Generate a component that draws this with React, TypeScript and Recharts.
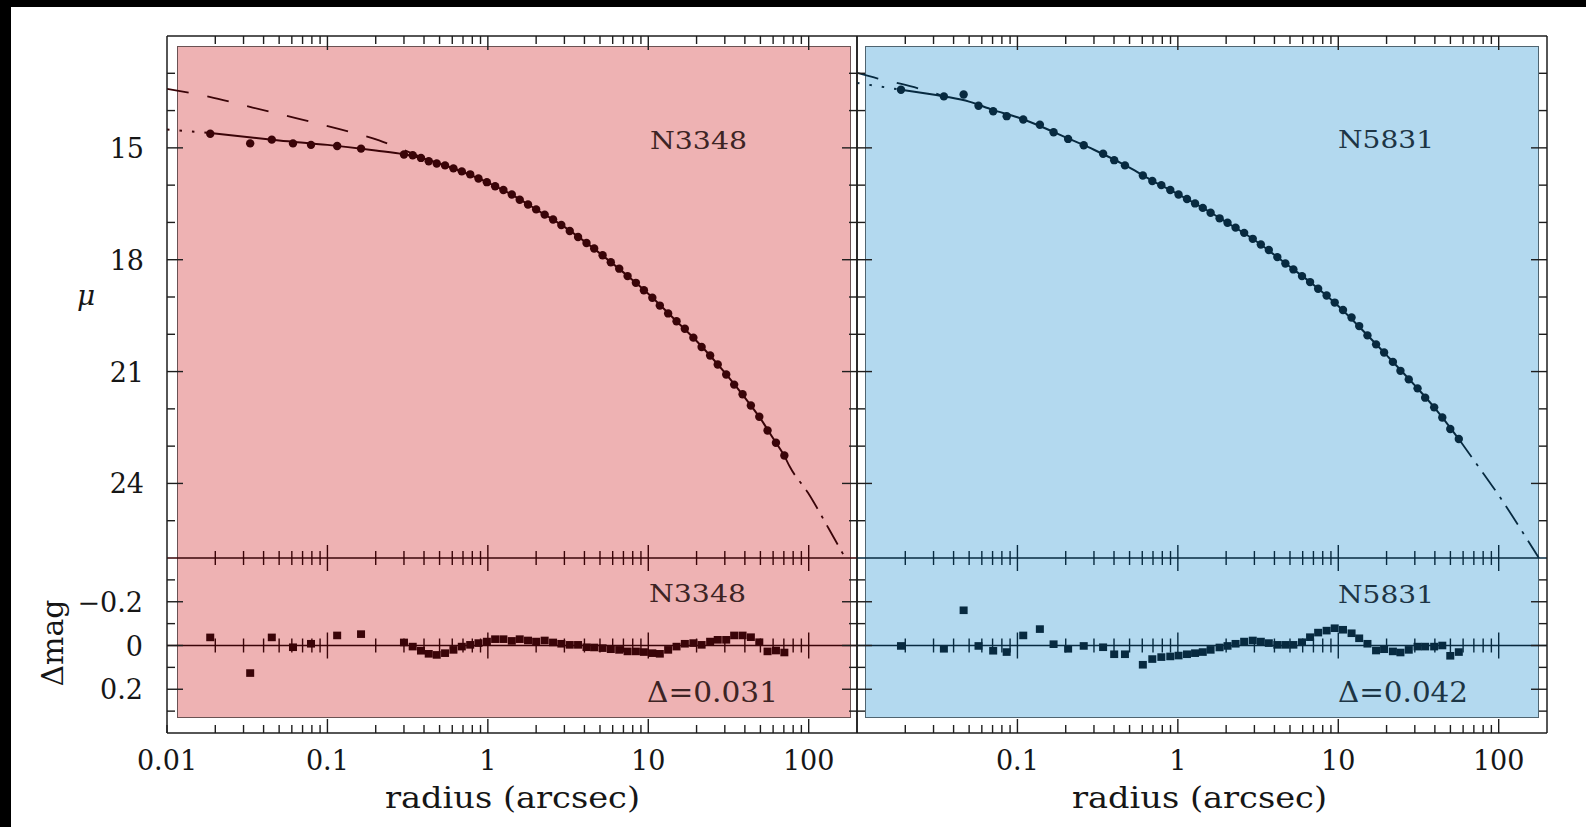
import React from "react";
import { ComposedChart, Line, Scatter, XAxis, YAxis, ReferenceLine } from "recharts";

const PAGE_W = 1586;
const PAGE_H = 827;
const SERIF = "'DejaVu Serif', 'Liberation Serif', serif";
const TEXT = "#161616";
const FRAME = "#1e1e1e";

// radius axis (log, arcsec)
const radiusDomain = [0.01, 200];
const radiusDecades = [0.01, 0.1, 1, 10, 100];
const radiusMinorSteps = [2, 3, 4, 5, 6, 7, 8, 9];
const radiusMajor = [0.1, 1, 10, 100];
const radiusLabelsLeft = ["0.01", "0.1", "1", "10", "100"];
const radiusLabelsRight = ["0.1", "1", "10", "100"];

// surface brightness axis
const muDomain = [12, 26];
const muMajor = [15, 18, 21, 24];
const muMinor = [13, 14, 16, 17, 19, 20, 22, 23, 25];

// residual axis
const dmagDomain = [-0.4, 0.4];
const dmagMajor = [-0.2, 0, 0.2];
const dmagMinor = [-0.3, -0.1, 0.1, 0.3];
const dmagLabels = ["\u22120.2", "0", "0.2"];

// NGC 3348: [radius, mu]
const n3348Profile: [number, number][] = [
  [0.0186, 14.62], [0.033, 14.88], [0.045, 14.78], [0.061, 14.88], [0.079, 14.92], [0.115, 14.95],
  [0.162, 15.02], [0.3, 15.18], [0.34, 15.2], [0.383, 15.27], [0.428, 15.36], [0.48, 15.42],
  [0.541, 15.47], [0.61, 15.55], [0.688, 15.63], [0.776, 15.71], [0.874, 15.82], [0.986, 15.92],
  [1.11, 16.03], [1.25, 16.13], [1.41, 16.25], [1.58, 16.39], [1.78, 16.52], [2.0, 16.65],
  [2.26, 16.79], [2.55, 16.92], [2.87, 17.07], [3.24, 17.23], [3.65, 17.39], [4.12, 17.55],
  [4.6, 17.7], [5.19, 17.88], [5.84, 18.07], [6.59, 18.24], [7.43, 18.44], [8.37, 18.62],
  [9.39, 18.82], [10.6, 19.02], [11.8, 19.23], [13.3, 19.44], [15.0, 19.65], [16.9, 19.85],
  [19.1, 20.09], [21.5, 20.34], [24.3, 20.57], [27.1, 20.81], [30.6, 21.08], [34.3, 21.35],
  [38.7, 21.61], [43.6, 21.91], [49.2, 22.21], [55.4, 22.58], [62.5, 22.91], [70.5, 23.25],
];
const n3348Residual: [number, number][] = [
  [0.0186, -0.037], [0.033, 0.126], [0.045, -0.037], [0.061, 0.008], [0.079, -0.008], [0.115, -0.046],
  [0.162, -0.052], [0.3, -0.014], [0.34, 0.005], [0.383, 0.024], [0.428, 0.038], [0.48, 0.043],
  [0.541, 0.035], [0.61, 0.02], [0.688, 0.005], [0.776, -0.003], [0.874, -0.011], [0.986, -0.018],
  [1.11, -0.029], [1.25, -0.029], [1.41, -0.021], [1.58, -0.029], [1.78, -0.023], [2.0, -0.018],
  [2.26, -0.023], [2.55, -0.014], [2.87, -0.008], [3.24, -0.003], [3.65, -0.003], [4.12, 0.008],
  [4.6, 0.009], [5.19, 0.012], [5.84, 0.017], [6.59, 0.02], [7.43, 0.027], [8.37, 0.027],
  [9.39, 0.03], [10.6, 0.035], [11.8, 0.038], [13.3, 0.02], [15.0, 0.005], [16.9, -0.008],
  [19.1, -0.011], [21.5, -0.003], [24.3, -0.018], [27.1, -0.026], [30.6, -0.026], [34.3, -0.046],
  [38.7, -0.046], [43.6, -0.038], [49.2, -0.015], [55.4, 0.027], [62.5, 0.023], [70.5, 0.032],
];
const n3348Fit: [number, number][] = [
  [0.0186, 14.6], [0.05, 14.8], [0.1, 14.92], [0.2, 15.07], [0.3, 15.17], [0.4, 15.29], [0.6, 15.54],
  [1, 15.93], [1.5, 16.32], [2, 16.65], [3, 17.12], [5, 17.83], [7, 18.34], [10, 18.91], [15, 19.65],
  [20, 20.18], [30, 21.03], [40, 21.7], [50, 22.26], [60, 22.79], [70.5, 23.25],
];
const n3348Sersic: [number, number][] = [
  [0.01, 13.42], [0.0184, 13.63], [0.0342, 13.92], [0.0636, 14.2], [0.119, 14.5], [0.21, 14.8],
  [0.3, 15.06], [0.4, 15.28],
];
const n3348Core: [number, number][] = [[0.01, 14.51], [0.0186, 14.6]];
const n3348Outer: [number, number][] = [[70.5, 23.25], [76, 23.54], [99, 24.25], [134, 25.23], [169, 26.0]];

// NGC 5831: [radius, mu]
const n5831Profile: [number, number][] = [
  [0.0188, 13.44], [0.0348, 13.62], [0.0462, 13.57], [0.0572, 13.87], [0.0706, 14.02], [0.0857, 14.15],
  [0.1087, 14.24], [0.138, 14.38], [0.168, 14.58], [0.207, 14.76], [0.259, 14.93], [0.342, 15.16],
  [0.401, 15.33], [0.468, 15.47], [0.605, 15.74], [0.693, 15.89], [0.789, 16.0], [0.897, 16.13],
  [1.01, 16.25], [1.14, 16.37], [1.28, 16.49], [1.43, 16.61], [1.6, 16.74], [1.82, 16.89],
  [2.04, 17.01], [2.29, 17.14], [2.59, 17.28], [2.93, 17.44], [3.29, 17.59], [3.69, 17.74],
  [4.17, 17.93], [4.68, 18.1], [5.25, 18.26], [5.94, 18.44], [6.67, 18.6], [7.49, 18.78],
  [8.46, 18.96], [9.5, 19.15], [10.7, 19.35], [12.1, 19.55], [13.5, 19.78], [15.2, 20.03],
  [17.2, 20.27], [19.3, 20.49], [21.9, 20.74], [24.4, 20.98], [27.5, 21.21], [31.2, 21.45],
  [34.8, 21.7], [39.6, 21.96], [44.5, 22.23], [49.9, 22.54], [56.4, 22.81],
];
const n5831Residual: [number, number][] = [
  [0.0188, 0.002], [0.0348, 0.015], [0.0462, -0.161], [0.0572, 0.002], [0.0706, 0.024], [0.0857, 0.03],
  [0.1087, -0.046], [0.138, -0.075], [0.168, -0.006], [0.207, 0.015], [0.259, 0.002], [0.342, 0.008],
  [0.401, 0.04], [0.468, 0.04], [0.605, 0.088], [0.693, 0.062], [0.789, 0.053], [0.897, 0.05],
  [1.01, 0.046], [1.14, 0.04], [1.28, 0.035], [1.43, 0.03], [1.6, 0.02], [1.82, 0.009],
  [2.04, 0.002], [2.29, -0.008], [2.59, -0.018], [2.93, -0.023], [3.29, -0.018], [3.69, -0.011],
  [4.17, -0.003], [4.68, -0.003], [5.25, -0.003], [5.94, -0.015], [6.67, -0.038], [7.49, -0.059],
  [8.46, -0.068], [9.5, -0.079], [10.7, -0.072], [12.1, -0.056], [13.5, -0.033], [15.2, -0.008],
  [17.2, 0.023], [19.3, 0.017], [21.9, 0.027], [24.4, 0.032], [27.5, 0.02], [31.2, 0.005],
  [34.8, 0.005], [39.6, 0.005], [44.5, 0], [49.9, 0.047], [56.4, 0.03],
];
const n5831Fit: [number, number][] = [
  [0.0188, 13.44], [0.035, 13.62], [0.05, 13.76], [0.07, 13.98], [0.1, 14.18], [0.15, 14.48],
  [0.2, 14.72], [0.3, 15.05], [0.5, 15.53], [0.7, 15.89], [1, 16.24], [1.5, 16.66], [2, 16.99],
  [3, 17.47], [5, 18.19], [7, 18.67], [10, 19.24], [15, 20.0], [20, 20.56], [30, 21.37], [40, 21.98],
  [56.4, 22.81],
];
const n5831Sersic: [number, number][] = [[0.01, 12.99], [0.0135, 13.14], [0.0186, 13.28], [0.0248, 13.42], [0.033, 13.58]];
const n5831Core: [number, number][] = [[0.01, 13.26], [0.0188, 13.44]];
const n5831Outer: [number, number][] = [[56.4, 22.81], [72.6, 23.47], [103, 24.4], [144, 25.37], [178, 26.0]];

const radiusMinor = radiusDecades.flatMap((d) => radiusMinorSteps.map((k) => d * k)).filter((v) => v < 200);
const radiusTicks = [...radiusMajor, ...radiusMinor];
const muTicks = [...muMajor, ...muMinor];
const dmagTicks = [...dmagMajor, ...dmagMinor];

const rows = (pairs: [number, number][], key: string) => pairs.map(([r, v]) => ({ r, [key]: v }));
const near = (a: number, b: number) => Math.abs(a - b) <= 1e-9 + 1e-6 * Math.abs(b);

type TickOpts = {
  vertical: boolean;
  major: number[];
  majorSpan: [number, number];
  minorSpan: [number, number];
  color: string;
  labels?: { value: number; text: string }[];
  dx?: number;
  dy?: number;
  anchor?: "start" | "middle" | "end";
};

function axisTick(o: TickOpts) {
  return (props: any) => {
    const { x, y, payload } = props;
    const v = Number(payload.value);
    const [a, b] = o.major.some((m) => near(m, v)) ? o.majorSpan : o.minorSpan;
    const lab = o.labels?.find((l) => near(l.value, v));
    return (
      <g>
        {o.vertical ? (
          <line x1={x} x2={x} y1={y + a} y2={y + b} stroke={o.color} strokeWidth={1.4} />
        ) : (
          <line x1={x + a} x2={x + b} y1={y} y2={y} stroke={o.color} strokeWidth={1.4} />
        )}
        {lab && (
          <text
            x={x + (o.dx ?? 0)}
            y={y + (o.dy ?? 0)}
            textAnchor={o.anchor ?? "middle"}
            fontFamily={SERIF}
            fontSize={27}
            fill={TEXT}
          >
            {lab.text}
          </text>
        )}
      </g>
    );
  };
}

// axes are 1px thick boxes; margins are reduced by 1 so plot areas land on the frame lines
const axisBase = { tickSize: 0, tickMargin: 0, tickLine: false, interval: 0 as const, allowDataOverflow: true };

type ProfileProps = {
  x0: number;
  x1: number;
  ink: string;
  first: boolean;
  profile: [number, number][];
  fit: [number, number][];
  sersic: [number, number][];
  core: [number, number][];
  outer: [number, number][];
};

function ProfileChart(p: ProfileProps) {
  const margin = { left: p.x0 - 1, right: PAGE_W - p.x1 - 1, top: 36 - 1, bottom: PAGE_H - 558 - 1 };
  const pts = rows(p.profile, "mu");
  return (
    <div style={{ position: "absolute", left: 0, top: 0 }}>
      <ComposedChart width={PAGE_W} height={PAGE_H} margin={margin}>
        <XAxis
          {...axisBase}
          xAxisId="b"
          dataKey="r"
          type="number"
          scale="log"
          domain={radiusDomain}
          ticks={radiusTicks}
          height={1}
          axisLine={{ stroke: p.ink, strokeWidth: 1.5 }}
          tick={axisTick({ vertical: true, major: radiusMajor, majorSpan: [-13, 13], minorSpan: [-7, 7], color: p.ink })}
        />
        <XAxis
          {...axisBase}
          xAxisId="t"
          dataKey="r"
          orientation="top"
          type="number"
          scale="log"
          domain={radiusDomain}
          ticks={radiusTicks}
          height={1}
          axisLine={{ stroke: FRAME, strokeWidth: 1.5 }}
          tick={axisTick({ vertical: true, major: radiusMajor, majorSpan: [0, 14], minorSpan: [0, 8], color: FRAME })}
        />
        <YAxis
          {...axisBase}
          yAxisId="l"
          type="number"
          domain={muDomain}
          reversed
          ticks={muTicks}
          width={1}
          axisLine={{ stroke: FRAME, strokeWidth: 1.5 }}
          tick={axisTick({
            vertical: false,
            major: muMajor,
            majorSpan: [0, p.first ? 16 : 15],
            minorSpan: [0, 8],
            color: FRAME,
            labels: p.first ? muMajor.map((v) => ({ value: v, text: String(v) })) : undefined,
            dx: -23,
            dy: 10,
            anchor: "end",
          })}
        />
        <YAxis
          {...axisBase}
          yAxisId="r"
          orientation="right"
          type="number"
          domain={muDomain}
          reversed
          ticks={muTicks}
          width={1}
          axisLine={{ stroke: FRAME, strokeWidth: 1.5 }}
          tick={axisTick({ vertical: false, major: muMajor, majorSpan: [p.first ? -15 : -16, 0], minorSpan: [-8, 0], color: FRAME })}
        />
        <Line xAxisId="b" yAxisId="l" data={rows(p.sersic, "mu")} dataKey="mu" type="monotone" stroke={p.ink}
          strokeWidth={1.8} strokeDasharray="22 19" dot={false} activeDot={false} isAnimationActive={false} />
        <Line xAxisId="b" yAxisId="l" data={rows(p.core, "mu")} dataKey="mu" type="linear" stroke={p.ink}
          strokeWidth={2} strokeDasharray="2.5 10" dot={false} activeDot={false} isAnimationActive={false} />
        <Line xAxisId="b" yAxisId="l" data={rows(p.outer, "mu")} dataKey="mu" type="monotone" stroke={p.ink}
          strokeWidth={1.8} strokeDasharray="22 8 3 8" dot={false} activeDot={false} isAnimationActive={false} />
        <Line xAxisId="b" yAxisId="l" data={rows(p.fit, "mu")} dataKey="mu" type="monotone" stroke={p.ink}
          strokeWidth={2} dot={false} activeDot={false} isAnimationActive={false} />
        <Scatter xAxisId="b" yAxisId="l" data={pts} dataKey="mu" isAnimationActive={false}
          shape={(s: any) => <circle cx={s.cx} cy={s.cy} r={4.2} fill={p.ink} />} />
        {/* invisible series tied to the top axis so it gets a scale and draws its ticks */}
        <Scatter xAxisId="t" yAxisId="r" data={pts} dataKey="mu" isAnimationActive={false}
          shape={() => <g />} />
      </ComposedChart>
    </div>
  );
}

type ResidualProps = {
  x0: number;
  x1: number;
  ink: string;
  first: boolean;
  residual: [number, number][];
};

function ResidualChart(p: ResidualProps) {
  const margin = { left: p.x0 - 1, right: PAGE_W - p.x1 - 1, top: 558, bottom: PAGE_H - 733 - 1 };
  const labels = (p.first ? radiusLabelsLeft : radiusLabelsRight).map((t) => ({ value: Number(t), text: t }));
  const zeroTicks = radiusTicks.map((r) => ({ r, d: 0 }));
  return (
    <div style={{ position: "absolute", left: 0, top: 0 }}>
      <ComposedChart width={PAGE_W} height={PAGE_H} margin={margin}>
        <XAxis
          {...axisBase}
          xAxisId="b"
          dataKey="r"
          type="number"
          scale="log"
          domain={radiusDomain}
          ticks={p.first ? [0.01, ...radiusTicks] : radiusTicks}
          height={1}
          axisLine={{ stroke: FRAME, strokeWidth: 1.5 }}
          tick={axisTick({ vertical: true, major: radiusMajor, majorSpan: [-14, 0], minorSpan: [-8, 0], color: FRAME, labels, dy: 37 })}
        />
        <YAxis
          {...axisBase}
          yAxisId="l"
          type="number"
          domain={dmagDomain}
          reversed
          ticks={dmagTicks}
          width={1}
          axisLine={{ stroke: FRAME, strokeWidth: 1.5 }}
          tick={axisTick({
            vertical: false,
            major: dmagMajor,
            majorSpan: [0, p.first ? 16 : 15],
            minorSpan: [0, 8],
            color: FRAME,
            labels: p.first ? dmagMajor.map((v, i) => ({ value: v, text: dmagLabels[i] })) : undefined,
            dx: -24,
            dy: 10,
            anchor: "end",
          })}
        />
        <YAxis
          {...axisBase}
          yAxisId="r"
          orientation="right"
          type="number"
          domain={dmagDomain}
          reversed
          ticks={dmagTicks}
          width={1}
          axisLine={{ stroke: FRAME, strokeWidth: 1.5 }}
          tick={axisTick({ vertical: false, major: dmagMajor, majorSpan: [p.first ? -15 : -16, 0], minorSpan: [-8, 0], color: FRAME })}
        />
        <ReferenceLine xAxisId="b" yAxisId="l" y={0} stroke={p.ink} strokeWidth={1.5} />
        <Scatter xAxisId="b" yAxisId="l" data={zeroTicks} dataKey="d" isAnimationActive={false}
          shape={(s: any) => {
            const r = s.payload?.r ?? 0;
            const h = radiusMajor.some((m) => near(m, r)) ? 13 : 7;
            return <line x1={s.cx} x2={s.cx} y1={s.cy - h} y2={s.cy + h} stroke={p.ink} strokeWidth={1.4} />;
          }} />
        <Scatter xAxisId="b" yAxisId="l" data={rows(p.residual, "d")} dataKey="d" isAnimationActive={false}
          shape={(s: any) => <rect x={s.cx - 4} y={s.cy - 3.8} width={8} height={7.6} fill={p.ink} />} />
      </ComposedChart>
    </div>
  );
}

const PINK = "#eeb2b3";
const BLUE = "#b3d9ef";
const INK_L = "#3a0408";
const INK_R = "#072a40";

export default function App() {
  const label = { fontFamily: SERIF, fill: TEXT };
  return (
    <div style={{ position: "absolute", left: 0, top: 0, width: PAGE_W, height: PAGE_H, background: "#000", overflow: "hidden" }}>
      <div style={{ position: "absolute", left: 11, top: 7, right: 0, bottom: 0, background: "#fff" }} />
      <div style={{ position: "absolute", left: 177, top: 46, width: 674, height: 672, boxSizing: "border-box", background: PINK, border: "1px solid #6a5253" }} />
      <div style={{ position: "absolute", left: 865, top: 46, width: 674, height: 672, boxSizing: "border-box", background: BLUE, border: "1px solid #4f6470" }} />

      <ProfileChart x0={167} x1={857} ink={INK_L} first profile={n3348Profile} fit={n3348Fit}
        sersic={n3348Sersic} core={n3348Core} outer={n3348Outer} />
      <ResidualChart x0={167} x1={857} ink={INK_L} first residual={n3348Residual} />
      <ProfileChart x0={857} x1={1547} ink={INK_R} first={false} profile={n5831Profile} fit={n5831Fit}
        sersic={n5831Sersic} core={n5831Core} outer={n5831Outer} />
      <ResidualChart x0={857} x1={1547} ink={INK_R} first={false} residual={n5831Residual} />

      <svg width={PAGE_W} height={PAGE_H} style={{ position: "absolute", left: 0, top: 0, pointerEvents: "none" }}>
        <text x={650} y={149} fontFamily={SERIF} fontSize={25} fill="#3d2424" textLength={97} lengthAdjust="spacingAndGlyphs">N3348</text>
        <text x={1338} y={148} fontFamily={SERIF} fontSize={25} fill="#1d3545" textLength={96} lengthAdjust="spacingAndGlyphs">N5831</text>
        <text x={649} y={602} fontFamily={SERIF} fontSize={25} fill="#3d2424" textLength={97} lengthAdjust="spacingAndGlyphs">N3348</text>
        <text x={1338} y={603} fontFamily={SERIF} fontSize={25} fill="#1d3545" textLength={96} lengthAdjust="spacingAndGlyphs">N5831</text>
        <text x={647} y={702} fontFamily={SERIF} fontSize={27} fill="#3d2424" textLength={131} lengthAdjust="spacingAndGlyphs">Δ=0.031</text>
        <text x={1338} y={702} fontFamily={SERIF} fontSize={27} fill="#1d3545" textLength={130} lengthAdjust="spacingAndGlyphs">Δ=0.042</text>
        <text x={86} y={305} textAnchor="middle" fontSize={28} fontStyle="italic" {...label}>μ</text>
        <text transform="translate(63,643) rotate(-90)" textAnchor="middle" fontSize={29} textLength={87} lengthAdjust="spacingAndGlyphs" {...label}>Δmag</text>
        <text x={385} y={808} fontSize={30} textLength={255} lengthAdjust="spacingAndGlyphs" {...label}>radius (arcsec)</text>
        <text x={1072} y={808} fontSize={30} textLength={255} lengthAdjust="spacingAndGlyphs" {...label}>radius (arcsec)</text>
      </svg>
    </div>
  );
}
